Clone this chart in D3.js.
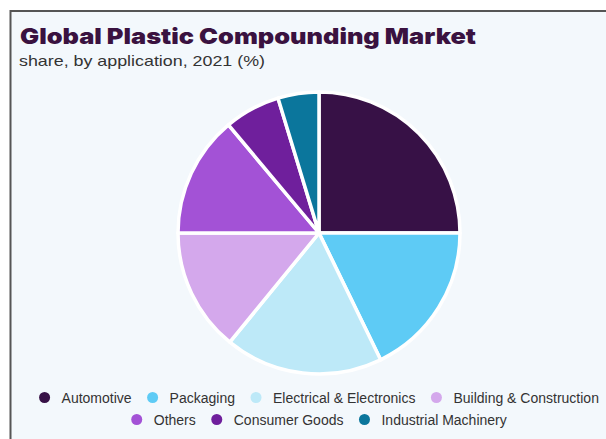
<!DOCTYPE html>
<html lang="en">
<head>
<meta charset="UTF-8">
<title>Global Plastic Compounding Market</title>
<style>
  body { margin: 0; background: #ffffff; }
  svg { display: block; }
</style>
</head>
<body>
<script src="https://cdn.jsdelivr.net/npm/d3@7"></script>
<div id="chart"></div>
<script>
  const categories = ["Automotive", "Packaging", "Electrical & Electronics", "Building & Construction",
    "Others", "Consumer Goods", "Industrial Machinery"]
  const shares = [25.0, 17.8, 18.1, 14.1, 13.9, 6.4, 4.7]
  const colors = ["#371146", "#5ecbf5", "#bde9f8", "#d4a8ec", "#a352d6", "#6f1f9c", "#0b769c"]
  const legendRows = [[0, 1, 2, 3], [4, 5, 6]]

  const W = 606, H = 439
  const svg = d3.select("#chart").append("svg")
    .attr("width", W).attr("height", H)

  // panel with the dark top/left frame
  svg.append("rect").attr("x", 10).attr("y", 10).attr("width", W - 10).attr("height", H - 10)
    .attr("fill", "#f3f8fc")
  svg.append("path").attr("d", `M 10.5,${H} V 11 H ${W}`)
    .attr("fill", "none").attr("stroke", "#555555").attr("stroke-width", 2)

  svg.append("text").attr("x", 20).attr("y", 43.5)
    .style("font-family", "Inter, 'DejaVu Sans', sans-serif")
    .style("font-weight", 900).style("font-size", "22px")
    .attr("fill", "#3a1240")
    .attr("textLength", 456).attr("lengthAdjust", "spacingAndGlyphs")
    .text("Global Plastic Compounding Market")

  svg.append("text").attr("x", 19).attr("y", 65.5)
    .style("font-family", "'Liberation Sans', Arial, sans-serif")
    .style("font-size", "15px").attr("fill", "#333333")
    .attr("textLength", 246).attr("lengthAdjust", "spacingAndGlyphs")
    .text("share, by application, 2021 (%)")

  // pie
  const cx = 319, cy = 233, R = 141
  const pie = d3.pie().sort(null).value(d => d)
  const arc = d3.arc().innerRadius(0).outerRadius(R)

  svg.append("g").attr("transform", `translate(${cx}, ${cy})`)
    .selectAll("path")
    .data(pie(shares))
    .join("path")
    .attr("d", arc)
    .attr("fill", (d, i) => colors[i])
    .attr("stroke", "#ffffff")
    .attr("stroke-width", 3.5)
    .attr("stroke-linejoin", "round")

  // legend, centred rows
  const legend = svg.append("g")
  const rowY = [397.5, 419.5]
  legendRows.forEach((row, r) => {
    const rowG = legend.append("g")
    let x = 0
    row.forEach(i => {
      const item = rowG.append("g").attr("transform", `translate(${x}, ${rowY[r]})`)
      item.append("circle").attr("cx", 0).attr("cy", 0).attr("r", 5.5).attr("fill", colors[i])
      const t = item.append("text").attr("x", 17).attr("y", 5)
        .style("font-family", "'Liberation Sans', Arial, sans-serif")
        .style("font-size", "14px").attr("fill", "#333333")
        .text(categories[i])
      x += 17 + t.node().getComputedTextLength() + 21
    })
    const span = x - 21 + 5.5
    rowG.attr("transform", `translate(${319 - span / 2 + 5.5}, 0)`)
  })
</script>
</body>
</html>
